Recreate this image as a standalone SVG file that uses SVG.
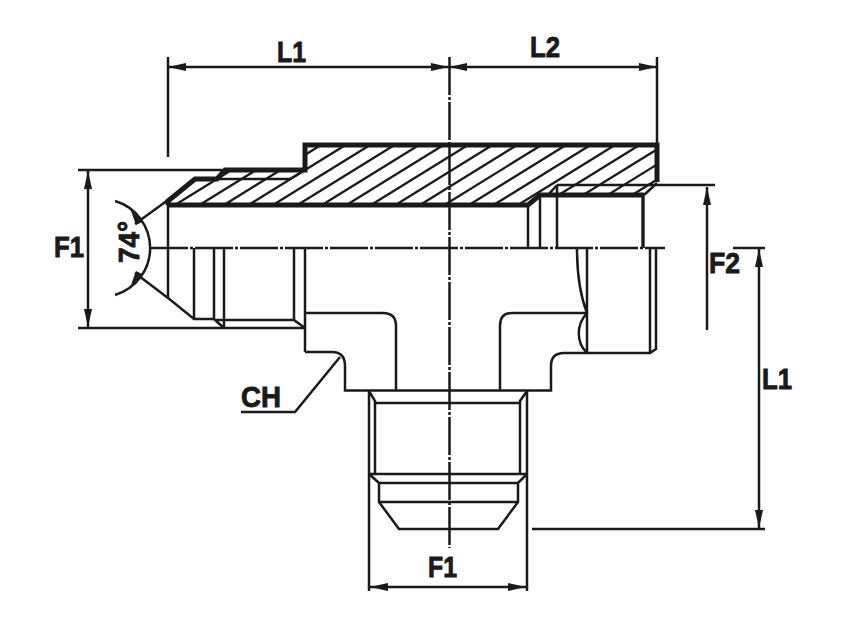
<svg xmlns="http://www.w3.org/2000/svg" width="845" height="630" viewBox="0 0 845 630">
<style>
.o{fill:none;stroke:#1a1a1a;stroke-width:3.4;stroke-linejoin:round}
.t{fill:none;stroke:#1a1a1a;stroke-width:2.5;stroke-linejoin:miter}
.h{fill:none;stroke:#1a1a1a;stroke-width:2.3}
.b{fill:none;stroke:#1a1a1a;stroke-width:5;stroke-linejoin:miter}
.c{fill:none;stroke:#1a1a1a;stroke-width:2.5;stroke-dasharray:38 2 3 2}
.d{fill:none;stroke:#1a1a1a;stroke-width:2.5;marker-start:url(#a);marker-end:url(#a)}
.e{fill:none;stroke:#1a1a1a;stroke-width:2.5;marker-end:url(#a)}
.n{fill:none;stroke:#1a1a1a;stroke-width:2.5}
text{font-family:"Liberation Sans",Arial,sans-serif;font-weight:700;font-size:30px;fill:#1a1a1a;stroke:#1a1a1a;stroke-width:.9}
</style>
<defs>
<marker id="a" markerUnits="userSpaceOnUse" markerWidth="20" markerHeight="10" refX="18" refY="5" orient="auto-start-reverse"><path d="M0 1 L18 5 L0 9 Z" fill="#1a1a1a"/></marker>
<clipPath id="hc"><path d="M168 205V201L195 179H217L225 170H305V145H657V182L644 195H540L528 205Z"/></clipPath>
</defs>
<g id="hatching" clip-path="url(#hc)">
<path class="h" d="M175 205l97-60M199.500 205l97-60M224 205l97-60M248.500 205l97-60M273 205l97-60M297.500 205l97-60M322 205l97-60M346.500 205l97-60M371 205l97-60M395.500 205l97-60M420 205l97-60M444.500 205l97-60M469 205l97-60M493.500 205l97-60M518 205l97-60M542.500 205l97-60M567 205l97-60M591.500 205l97-60M616 205l97-60"/>
</g>
<g id="body">
<path class="b" d="M168 205V201L195 179H217L225 170H305V145H657V182"/>
<path class="b" d="M168 205H528L540 195H644"/>
<path class="t" d="M217 179H290L305 170M644 195L657 183M548 195L557 185"/>
<path class="t" d="M168 205V298L194 319H214L224 328M194 248V319M214 248V320M224 248V328M294 248V320L305 328M305 248V352M214 320H294"/>
<path class="t" d="M305 313H383Q396 313 396 326V390M305 352H332Q345 352 345 366V390.500H551V366Q551 353 564 353H650L656 349V248M650 248V353"/>
<path class="t" d="M587 313H512Q500 313 500 326V390M587 248V353M577 248C577 275 580 295 587 313C576 325 576 342 587 353"/>
<path class="t" d="M528 205V248M540 195V248M557 185V248"/>
<path class="o" d="M643 195V248"/>
<path class="t" d="M369 391L375 401V474M527 391L520 401V474M375 403H520M369 391V474M527 391V474M369 474H527M369 474L379 483H518L527 474M379 483V502L399 529H498L518 502V483M379 502H518"/>
</g>
<g id="connectors">
<path class="c" d="M150 248H665"/>
<path class="c" d="M449.500 57V548"/>
<path class="t" d="M168 57V157M657 57V145"/>
<path class="d" d="M168 67H449"/>
<path class="d" d="M449 67H657"/>
<path class="t" d="M78 170H222M78 328H305"/>
<path class="d" d="M88 171V327"/>
<path class="t" d="M557 185H715"/>
<path class="e" d="M707 330V187"/>
<path class="t" d="M733 248H765M532 529H765"/>
<path class="d" d="M759 249V528"/>
<path class="t" d="M369 474V591M527 474V591"/>
<path class="d" d="M370 587H526"/>
<path class="t" d="M135 224L168 200M135 273L168 298"/>
<path class="n" d="M115 201A49 49 0 0 1 115 295"/>
<path d="M130 208L142 222L136 225Z" fill="#1a1a1a"/>
<path d="M130 288L142 274L136 271Z" fill="#1a1a1a"/>
<path class="t" d="M340 357L295 412H241"/>
</g>
<g id="labels">
<text x="277" y="62" textLength="29" lengthAdjust="spacingAndGlyphs">L1</text>
<text x="530" y="57" textLength="30" lengthAdjust="spacingAndGlyphs">L2</text>
<text x="54" y="257" textLength="30" lengthAdjust="spacingAndGlyphs">F1</text>
<text x="709" y="273" textLength="31" lengthAdjust="spacingAndGlyphs">F2</text>
<text x="762" y="389" textLength="30" lengthAdjust="spacingAndGlyphs">L1</text>
<text x="428" y="577" textLength="29" lengthAdjust="spacingAndGlyphs">F1</text>
<text x="241" y="407" textLength="40" lengthAdjust="spacingAndGlyphs">CH</text>
<text transform="translate(139 263) rotate(-90)" textLength="42" lengthAdjust="spacingAndGlyphs">74°</text>
</g>
</svg>
